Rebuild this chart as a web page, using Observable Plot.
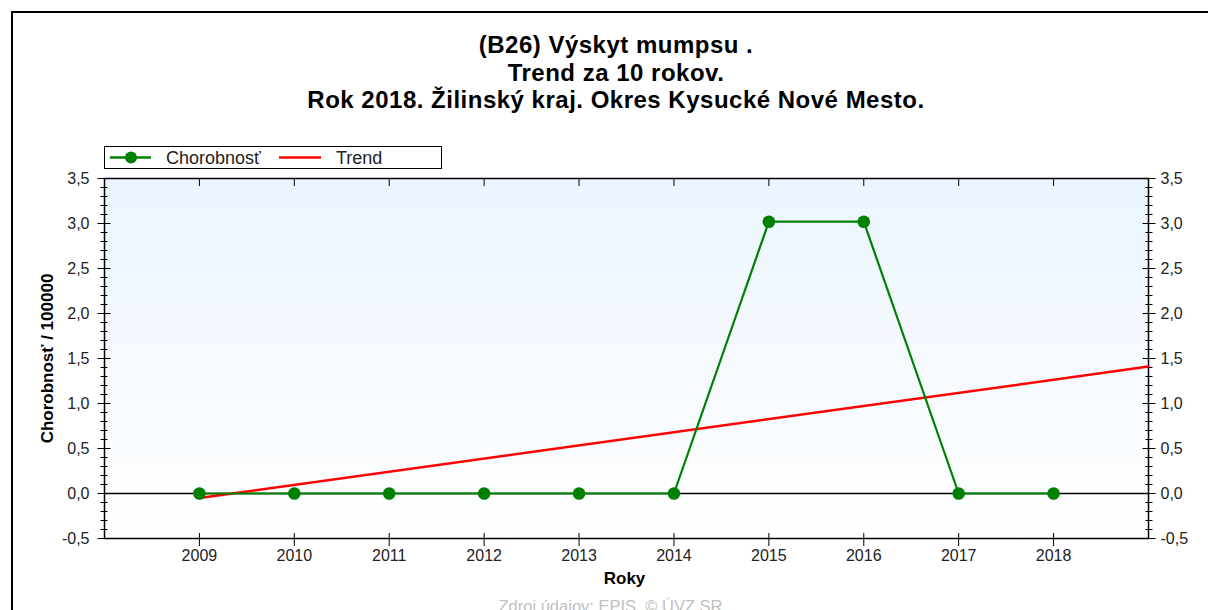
<!DOCTYPE html>
<html><head><meta charset="utf-8">
<script src="https://cdn.jsdelivr.net/npm/d3@7"></script>
<script src="https://cdn.jsdelivr.net/npm/@observablehq/plot@0.6"></script>
<style>
body{margin:0;background:#fff;font-family:"Liberation Sans",Arial,sans-serif}
#wrap{position:relative;width:1208px;height:610px;overflow:hidden;background:#fff}
#border{position:absolute;left:11px;top:11px;width:1300px;height:700px;border-top:2px solid #000;border-left:2px solid #000}
#title{position:absolute;left:0;width:1232px;top:31px;text-align:center;font-weight:bold;font-size:24px;letter-spacing:0.5px;line-height:27.5px;color:#000}
#legend{position:absolute;left:104px;top:146px;width:336px;height:21px;border:1px solid #000;background:#fff;z-index:2}
#legend svg{display:block}
#chart{position:absolute;left:0;top:0}
</style></head>
<body>
<div id="wrap">
  <div id="border"></div>
  <div id="chart"></div>
  <div id="title">(B26) Výskyt mumpsu .<br>Trend za 10 rokov.<br>Rok 2018. Žilinský kraj. Okres Kysucké Nové Mesto.</div>
  <div id="legend"></div>
</div>
<script>
const years = [2009, 2010, 2011, 2012, 2013, 2014, 2015, 2016, 2017, 2018];
const chorobnost = [0, 0, 0, 0, 0, 0, 3.02, 3.02, 0, 0];
const trendYears = [2009, 2019];
const trendValues = [-0.05, 1.41];
const yMajorTicks = [-0.5, 0, 0.5, 1, 1.5, 2, 2.5, 3, 3.5];
const yMinorTicks = d3.range(-5, 36).map(i => i / 10);
const seriesNames = ["Chorobnosť", "Trend"];
const seriesColors = ["#008000", "#ff0000"];
const yLabel = "Chorobnosť / 100000";
const xLabel = "Roky";
const sourceText = "Zdroj údajov: EPIS, © ÚVZ SR";

const data = years.map((y, i) => ({year: y, value: chorobnost[i]}));
const trend = trendYears.map((y, i) => ({year: y, value: trendValues[i]}));
const fmt = d => d.toFixed(1).replace(".", ",");

const defs = () => {
  const g = d3.create("svg:defs");
  const lg = g.append("linearGradient").attr("id", "bgGrad")
    .attr("x1", 0).attr("y1", 0).attr("x2", 0).attr("y2", 1);
  lg.append("stop").attr("offset", "0%").attr("stop-color", "#ebf4fe");
  lg.append("stop").attr("offset", "100%").attr("stop-color", "#ffffff");
  return g.node();
};

const chart = Plot.plot({
  width: 1208,
  height: 610,
  marginLeft: 104,
  marginRight: 60,
  marginTop: 178,
  marginBottom: 72,
  style: {fontFamily: "'Liberation Sans', Arial, sans-serif", fontSize: "16px", color: "#000", background: "transparent", overflow: "visible"},
  x: {domain: [2008, 2019], axis: null},
  y: {domain: [-0.5, 3.5], axis: null},
  marks: [
    defs,
    Plot.frame({fill: "url(#bgGrad)"}),
    Plot.axisY({anchor: "left", ticks: yMinorTicks, tickSize: 7, dx: 3.5, tickFormat: () => "", label: null, stroke: "#000"}),
    Plot.axisY({anchor: "right", ticks: yMinorTicks, tickSize: 7, dx: -3.5, tickFormat: () => "", label: null, stroke: "#000"}),
    Plot.axisY({anchor: "left", ticks: yMajorTicks, tickSize: 13, dx: 6.5, tickFormat: () => "", label: null, stroke: "#000"}),
    Plot.axisY({anchor: "right", ticks: yMajorTicks, tickSize: 13, dx: -6.5, tickFormat: () => "", label: null, stroke: "#000"}),
    Plot.axisY({anchor: "left", ticks: yMajorTicks, tickSize: 0, tickPadding: 15, tickFormat: fmt, label: null, fill: "#222"}),
    Plot.axisY({anchor: "right", ticks: yMajorTicks, tickSize: 0, tickPadding: 12, tickFormat: fmt, label: null, fill: "#222"}),
    Plot.axisX({anchor: "bottom", ticks: years, tickSize: 13, dy: -5, tickFormat: () => "", label: null, stroke: "#000"}),
    Plot.axisX({anchor: "top", ticks: years, tickSize: 7, dy: 7, tickFormat: () => "", label: null, stroke: "#000"}),
    Plot.axisX({anchor: "bottom", ticks: years, tickSize: 0, tickPadding: 11, tickFormat: d => String(d), label: null, fill: "#222"}),
    Plot.frame({stroke: "#000", strokeWidth: 1.5}),
    Plot.ruleY([0], {stroke: "#000", strokeWidth: 1.5}),
    Plot.line(trend, {x: "year", y: "value", stroke: seriesColors[1], strokeWidth: 2.5}),
    Plot.line(data, {x: "year", y: "value", stroke: seriesColors[0], strokeWidth: 2.2}),
    Plot.dot(data, {x: "year", y: "value", r: 6.3, fill: seriesColors[0], stroke: "none"}),
    Plot.text([yLabel], {frameAnchor: "left", textAnchor: "middle", dx: -57, rotate: -90, fontWeight: "bold", fontSize: 17, fill: "#000"}),
    Plot.text([xLabel], {frameAnchor: "bottom", dy: 45, dx: -2, fontWeight: "bold", fontSize: 17, fill: "#000"}),
    Plot.text([sourceText], {frameAnchor: "bottom", dy: 73, dx: -16, fontSize: 16.5, fill: "#c0c0c0"})
  ]
});
document.getElementById("chart").appendChild(chart);

// legend
const lg = d3.select("#legend").append("svg").attr("width", 336).attr("height", 21)
  .style("font-family", "'Liberation Sans', Arial, sans-serif").style("font-size", "18px");
lg.append("line").attr("x1", 5).attr("x2", 46).attr("y1", 10.5).attr("y2", 10.5).attr("stroke", seriesColors[0]).attr("stroke-width", 2.5);
lg.append("circle").attr("cx", 26).attr("cy", 10.5).attr("r", 6).attr("fill", seriesColors[0]);
lg.append("text").attr("x", 61).attr("y", 17).attr("fill", "#222").text(seriesNames[0]);
lg.append("line").attr("x1", 174).attr("x2", 216).attr("y1", 10.5).attr("y2", 10.5).attr("stroke", seriesColors[1]).attr("stroke-width", 2.5);
lg.append("text").attr("x", 231).attr("y", 17).attr("fill", "#222").text(seriesNames[1]);
</script>
</body></html>
